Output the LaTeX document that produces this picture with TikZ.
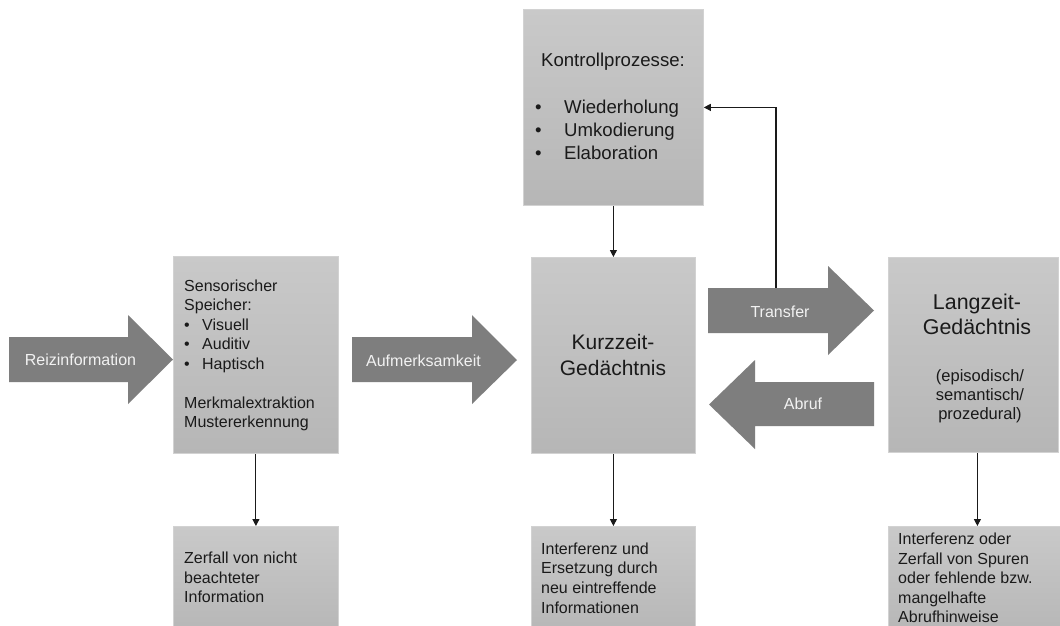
\documentclass[tikz,border=0pt]{standalone}
\usepackage{fontspec}
\setmainfont{Liberation Sans}
\usetikzlibrary{arrows.meta,calc}

\definecolor{boxtop}{HTML}{C9C9C9}
\definecolor{boxbot}{HTML}{B6B6B6}
\definecolor{boxedge}{HTML}{D2D2D2}
\definecolor{blockfill}{HTML}{7E7E7E}
\definecolor{blocktext}{HTML}{F2F2F2}
\definecolor{ink}{HTML}{1A1A1A}

\newcommand{\bul}[1]{\makebox[#1][l]{\textbullet}}

\begin{document}
\begin{tikzpicture}[x=1pt,y=-1pt,
  store/.style={rectangle, draw=boxedge, line width=0.8pt,
    top color=boxtop, bottom color=boxbot, inner sep=0pt, anchor=north west},
  txt/.style={inner sep=0pt, align=left, text=ink},
  ctxt/.style={inner sep=0pt, align=center, text=ink},
  blockarrow/.style={fill=blockfill, draw=none},
  arrowlabel/.style={inner sep=0pt, text=blocktext,
    font=\fontsize{16}{19}\selectfont},
  conn/.style={draw=ink, line width=1.1pt,
    -{Triangle[length=7pt,width=7pt]}}]

\useasboundingbox (0,0) rectangle (1060,625);
\clip (0,0) rectangle (1060,625);
\fill[white] (0,0) rectangle (1060,625);

% ---- memory stores ----
\node[store, minimum width=165pt, minimum height=197pt] (sens) at (173,256) {};
\node[store, minimum width=165pt, minimum height=110pt] (zerf) at (173,526) {};
\node[store, minimum width=180pt, minimum height=196pt] (kp)   at (523,9)   {};
\node[store, minimum width=164pt, minimum height=196pt] (kz)   at (531,257) {};
\node[store, minimum width=164pt, minimum height=110pt] (ifz)  at (531,526) {};
\node[store, minimum width=170pt, minimum height=195pt] (lz)   at (888,257) {};
\node[store, minimum width=180pt, minimum height=110pt] (lzb)  at (888,526) {};

% ---- texts inside the stores ----
\node[txt, anchor=west, font=\fontsize{16}{19.5}\selectfont] (senstxt) at (184,355.5)
  {Sensorischer\\Speicher:\\\bul{18pt}Visuell\\\bul{18pt}Auditiv\\\bul{18pt}Haptisch\\[19.5pt]Merkmalextraktion\\Mustererkennung};
\node[txt, anchor=west, font=\fontsize{16}{19.5}\selectfont] (zerftxt) at (184,577.5)
  {Zerfall von nicht\\beachteter\\Information};
\node[ctxt, font=\fontsize{18.6}{23}\selectfont] (kptitle) at (613,62) {Kontrollprozesse:};
\node[txt, anchor=west, font=\fontsize{18.6}{23}\selectfont] (kplist) at (535,130)
  {\bul{29pt}Wiederholung\\\bul{29pt}Umkodierung\\\bul{29pt}Elaboration};
\node[ctxt, font=\fontsize{21}{26}\selectfont] (kztxt) at (613,355) {Kurzzeit-\\Gedächtnis};
\node[txt, anchor=west, font=\fontsize{16}{19.8}\selectfont] (ifztxt) at (541,578)
  {Interferenz und\\Ersetzung durch\\neu eintreffende\\Informationen};
\node[ctxt, font=\fontsize{21.4}{25}\selectfont] (lztitle) at (977,314.5) {Langzeit-\\Gedächtnis};
\node[ctxt, font=\fontsize{16.5}{19}\selectfont] (lzsub) at (980,396)
  {(episodisch/\\semantisch/\\prozedural)};
\node[txt, anchor=west, font=\fontsize{16}{19.5}\selectfont] (lzbtxt) at (898,578)
  {Interferenz oder\\Zerfall von Spuren\\oder fehlende bzw.\\mangelhafte\\Abrufhinweise};

% ---- block arrows ----
\path[blockarrow] (9,337) -- (128,337) -- (128,315) -- (173,359.5) -- (128,404) -- (128,382) -- (9,382) -- cycle;
\node[arrowlabel] (reiz) at (80.5,360) {Reizinformation};

\path[blockarrow] (352,337) -- (472,337) -- (472,315) -- (517,360) -- (472,404) -- (472,382) -- (352,382) -- cycle;
\node[arrowlabel] (aufm) at (423.5,361) {Aufmerksamkeit};

\path[blockarrow] (708,288) -- (828,288) -- (828,266) -- (874,310.5) -- (828,355) -- (828,333) -- (708,333) -- cycle;
\node[arrowlabel] (transfer) at (780,312) {Transfer};

\path[blockarrow] (874,382) -- (755,382) -- (755,360) -- (709,404.5) -- (755,449) -- (755,426) -- (874,426) -- cycle;
\node[arrowlabel] (abruf) at (803,404) {Abruf};

% ---- connectors ----
\coordinate (trtop) at (776,288);
\coordinate (lzout) at ($(lz.south)+(4,0)$);
\draw[conn] (trtop) |- (kp.east);
\draw[conn] (kp.south) -- (kz.north);
\draw[conn] (sens.south) -- (sens.south |- zerf.north);
\draw[conn] (kz.south) -- (ifz.north);
\draw[conn] (lzout) -- (lzout |- lzb.north);

\end{tikzpicture}
\end{document}
